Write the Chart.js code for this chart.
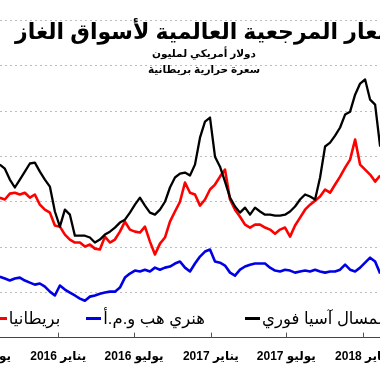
<!DOCTYPE html>
<html lang="ar">
<head>
<meta charset="utf-8">
<script src="https://cdn.jsdelivr.net/npm/chart.js@4.4.1/dist/chart.umd.min.js"></script>
<style>
html,body{margin:0;padding:0;background:#fff;}
#stage{position:relative;width:380px;height:372px;overflow:hidden;background:#fff;font-family:'Liberation Sans','DejaVu Sans',Arial,sans-serif;color:#000;}
#wrap{position:absolute;left:-60px;top:-2px;width:490px;height:378px;}
#title{position:absolute;left:15px;top:18px;font-weight:bold;font-size:22px;direction:rtl;white-space:nowrap;line-height:28px;}
.sub{position:absolute;left:204px;transform:translateX(-50%);font-size:10.5px;font-weight:bold;direction:rtl;white-space:nowrap;line-height:16px;}
.leg{position:absolute;top:308px;height:20px;display:flex;align-items:center;white-space:nowrap;}
#legL{left:0;width:205px;justify-content:flex-end;}
#legR{left:245px;}
.item{display:flex;align-items:center;margin-left:26px;}
.dash{display:inline-block;width:15px;height:3px;margin-right:2px;}
.txt{font-size:16.5px;direction:rtl;line-height:20px;}
</style>
</head>
<body>
<div id="stage">
  <div id="wrap"><canvas id="c" width="490" height="378"></canvas></div>
  <div id="title">الأسعار المرجعية العالمية لأسواق الغاز</div>
  <div class="sub" style="top:45px">دولار أمريكي لمليون</div>
  <div class="sub" style="top:61px">سعرة حرارية بريطانية</div>
  <div class="leg" id="legL"></div>
  <div class="leg" id="legR"></div>
</div>
<script>
// ---- data (USD per million British thermal units) ----
const sampleDates = [
 '2015-08-14','2015-08-26','2015-09-07','2015-09-19','2015-10-01','2015-10-13','2015-10-25','2015-11-06','2015-11-18','2015-11-30',
 '2015-12-12','2015-12-24','2016-01-05','2016-01-17','2016-01-29','2016-02-10','2016-02-22','2016-03-05','2016-03-17','2016-03-29',
 '2016-04-10','2016-04-22','2016-05-04','2016-05-16','2016-05-28','2016-06-09','2016-06-21','2016-07-03','2016-07-15','2016-07-27',
 '2016-08-08','2016-08-20','2016-09-01','2016-09-13','2016-09-25','2016-10-07','2016-10-19','2016-10-31','2016-11-12','2016-11-24',
 '2016-12-06','2016-12-18','2016-12-30','2017-01-11','2017-01-23','2017-02-04','2017-02-16','2017-02-28','2017-03-12','2017-03-24',
 '2017-04-05','2017-04-17','2017-04-29','2017-05-11','2017-05-23','2017-06-04','2017-06-16','2017-06-28','2017-07-10','2017-07-22',
 '2017-08-03','2017-08-15','2017-08-27','2017-09-08','2017-09-20','2017-10-02','2017-10-14','2017-10-26','2017-11-07','2017-11-19',
 '2017-12-01','2017-12-13','2017-12-25','2018-01-06','2018-01-18','2018-01-30','2018-02-11'
];
const asiaLngSpot = [
 7.64,7.46,6.98,6.63,6.98,7.33,7.69,7.73,7.33,6.98,
 6.67,5.57,4.90,5.65,5.43,4.50,4.50,4.50,4.42,4.20,
 4.33,4.55,4.68,4.86,5.08,5.21,5.52,5.87,6.18,5.83,
 5.52,5.43,5.65,6.00,6.63,7.07,7.24,7.29,7.16,7.64,
 8.83,9.54,9.72,7.99,7.55,6.89,6.18,5.79,5.52,5.74,
 5.43,5.74,5.57,5.43,5.43,5.39,5.39,5.43,5.57,5.79,
 6.10,6.32,6.23,6.10,7.07,8.44,8.61,8.92,9.28,9.85,
 9.98,10.73,11.22,11.40,10.51,10.29,8.44
];
const henryHubUS = [
 2.69,2.61,2.52,2.61,2.65,2.52,2.43,2.34,2.39,2.25,
 2.03,1.86,2.30,2.12,1.99,1.86,1.72,1.63,1.81,1.86,
 1.94,1.99,2.03,2.03,2.21,2.65,2.83,2.96,2.92,3.00,
 2.92,3.09,3.00,3.09,3.14,3.27,3.36,3.09,2.92,3.27,
 3.58,3.80,3.89,3.36,3.31,3.18,2.87,2.74,3.00,3.14,
 3.22,3.27,3.27,3.27,3.09,2.96,2.92,3.00,2.96,2.87,
 2.92,2.96,2.92,3.00,2.92,2.87,2.92,2.92,3.00,3.22,
 3.00,2.92,3.09,3.31,3.53,3.36,2.83
];
const britainNbp = [
 6.18,6.10,6.36,6.40,6.32,6.40,6.18,6.32,5.87,5.65,
 5.52,4.95,4.90,4.55,4.33,4.20,4.20,4.02,4.11,3.93,
 3.89,4.46,4.20,4.33,4.68,5.12,4.77,4.68,4.64,4.90,
 4.24,3.67,4.15,4.42,5.12,5.57,6.00,6.85,6.40,6.32,
 5.83,6.10,6.54,6.76,7.11,7.42,6.10,5.65,5.34,4.99,
 4.86,4.99,4.99,4.86,4.77,4.59,4.77,4.86,4.46,4.95,
 5.30,5.65,5.87,6.05,6.23,6.54,6.40,6.76,7.11,7.51,
 7.86,8.75,7.64,7.42,7.20,6.89,7.16
];
const seriesNames = ['الغاز الطبيعي المسال آسيا فوري', 'هنري هب و.م.أ', 'بريطانيا'];
const seriesColors = ['#000000', '#0000e6', '#ff0000'];
const tickDates = ['2015-07-01','2016-01-01','2016-07-01','2017-01-01','2017-07-01','2018-01-01'];
const tickLabels = ['يوليو 2015','يناير 2016','يوليو 2016','يناير 2017','يوليو 2017','يناير 2018'];
const yGridValues = [0, 2, 4, 6, 8, 10, 12, 14];

// ---- helpers ----
const DAY0 = Date.parse('2016-01-01T00:00:00Z');
const toDay = s => (Date.parse(s + 'T00:00:00Z') - DAY0) / 86400000;
const pts = vals => vals.map((v, i) => ({x: toDay(sampleDates[i]), y: v}));
const tickDays = tickDates.map(toDay);

const tickMarks = {
  id: 'tickMarks',
  afterDraw(chart) {
    const sx = chart.scales.x, ctx = chart.ctx, b = chart.chartArea.bottom;
    ctx.save();
    ctx.strokeStyle = '#555';
    ctx.lineWidth = 1;
    sx.ticks.forEach(t => {
      const px = Math.round(sx.getPixelForValue(t.value)) + 0.5;
      ctx.beginPath(); ctx.moveTo(px, b); ctx.lineTo(px, b - 5); ctx.stroke();
    });
    ctx.restore();
  }
};

const FONT = "'Liberation Sans','DejaVu Sans',Arial,sans-serif";
const seriesData = [asiaLngSpot, henryHubUS, britainNbp];

new Chart(document.getElementById('c'), {
  type: 'line',
  data: {
    datasets: seriesData.map((vals, i) => ({
      label: seriesNames[i],
      data: pts(vals),
      borderColor: seriesColors[i],
      backgroundColor: seriesColors[i],
      borderWidth: i === 0 ? 2.3 : 2.6,
      pointRadius: 0,
      tension: 0,
      borderJoinStyle: 'round',
      fill: false
    }))
  },
  options: {
    responsive: false,
    animation: false,
    devicePixelRatio: 1,
    layout: {padding: {left: 0, right: 0, top: 0, bottom: 0}},
    plugins: {legend: {display: false}, title: {display: false}, tooltip: {enabled: false}},
    scales: {
      x: {
        type: 'linear',
        min: -282.8,
        max: 891.6,
        afterBuildTicks: s => { s.ticks = tickDays.map(v => ({value: v})); },
        ticks: {
          autoSkip: false, maxRotation: 0, padding: 12, color: '#000',
          font: {family: FONT, size: 12, weight: 'bold'},
          callback: v => tickLabels[tickDays.indexOf(v)] || ''
        },
        grid: {drawOnChartArea: false, drawTicks: false},
        border: {display: true, color: '#444', width: 1}
      },
      y: {
        min: 0, max: 15,
        afterBuildTicks: s => { s.ticks = yGridValues.map(v => ({value: v})); },
        ticks: {display: false},
        grid: {color: '#bdbdbd', lineWidth: 1, drawTicks: false},
        border: {display: false, dash: [2, 3]}
      }
    }
  },
  plugins: [tickMarks]
});

// ---- legend (built from the series arrays) ----
function legendItem(i) {
  const it = document.createElement('span'); it.className = 'item';
  const d = document.createElement('span'); d.className = 'dash'; d.style.background = seriesColors[i];
  const t = document.createElement('span'); t.className = 'txt'; t.textContent = seriesNames[i];
  it.appendChild(d); it.appendChild(t); return it;
}
document.getElementById('legL').appendChild(legendItem(2));
document.getElementById('legL').appendChild(legendItem(1));
const r = legendItem(0); r.style.marginLeft = '0';
document.getElementById('legR').appendChild(r);
</script>
</body>
</html>
